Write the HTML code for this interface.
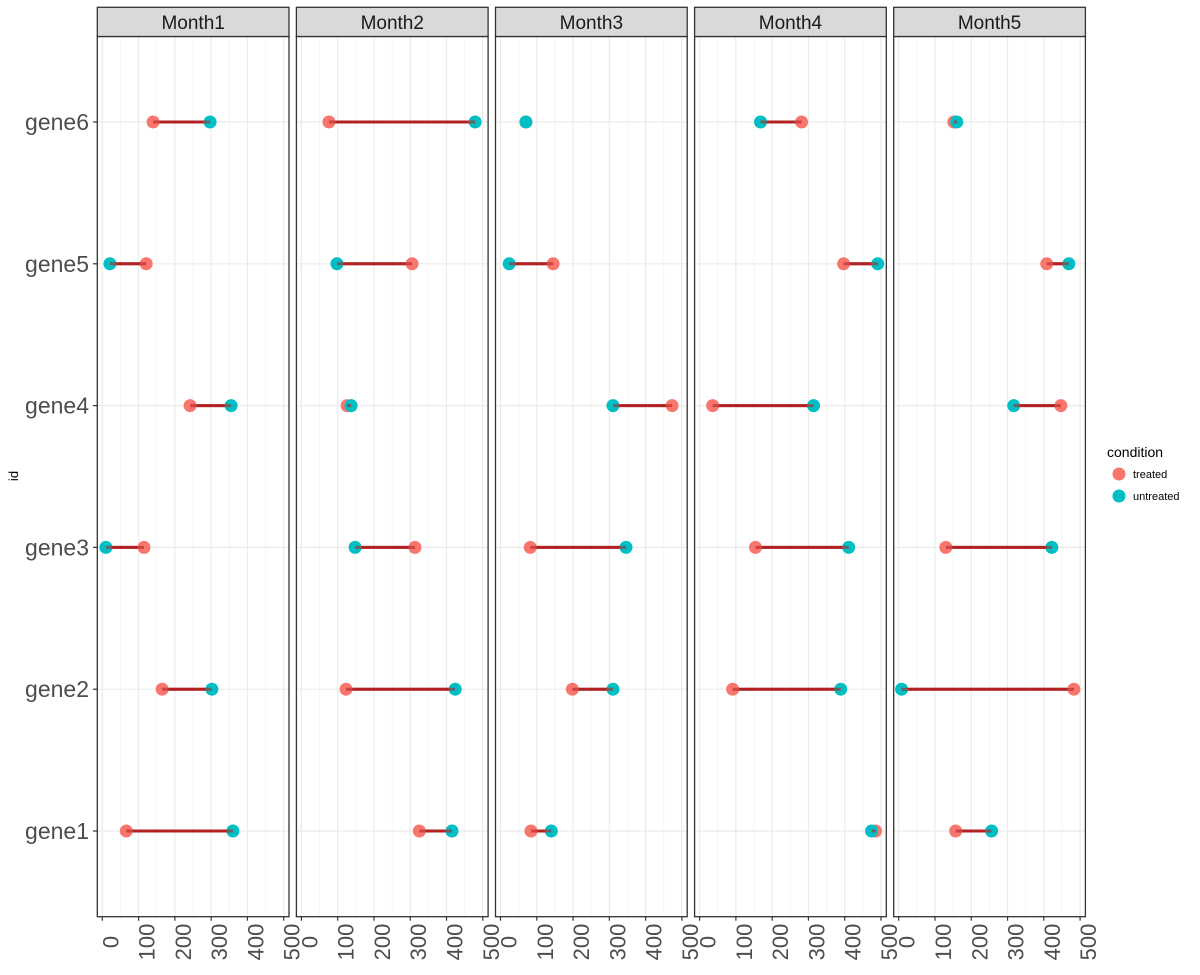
<!DOCTYPE html>
<html><head><meta charset="utf-8"><style>
body{margin:0;background:#fff;font-family:"Liberation Sans",sans-serif}
</style></head><body>
<svg id="chart" width="1200" height="970" xmlns="http://www.w3.org/2000/svg" font-family="Liberation Sans, sans-serif"></svg>
<script>
const months=["Month1","Month2","Month3","Month4","Month5"];
const genes=["gene1","gene2","gene3","gene4","gene5","gene6"];
// treated values per month, ordered gene1..gene6
const treated=[
 [66,165,115,242,121,140],
 [325,123,313,126,305,76],
 [84,198,82,473,145,70],
 [485,91,154,36,397,281],
 [157,483,130,447,408,152]];
const untreated=[
 [360,302,10,355,21,297],
 [415,424,148,137,98,479],
 [140,310,346,310,24,70],
 [474,389,411,314,491,168],
 [256,8,422,317,469,160]];
const ticks=[0,100,200,300,400,500];
const minorTicks=[50,150,250,350,450];

const svg=document.getElementById('chart');
const NS="http://www.w3.org/2000/svg";
function mk(tag,attrs,parent){const e=document.createElementNS(NS,tag);for(const k in attrs)e.setAttribute(k,attrs[k]);(parent||svg).appendChild(e);return e;}
const panelLeft0=97.3, panelStep=199.1, panelW=191.7, plotTop=36.5, plotBottom=916.7, stripTop=7.3;
const xOff=5, xScale=181.4/500;
function yPos(i){return 831-i*141.8;}
months.forEach((m,p)=>{
 const L=panelLeft0+p*panelStep;
 const x=v=>L+xOff+v*xScale;
 const g=mk('g',{});
 
 
 mk('rect',{x:L,y:plotTop,width:panelW,height:plotBottom-plotTop,fill:'#fff'},g);
 minorTicks.forEach(t=>mk('line',{x1:x(t),x2:x(t),y1:plotTop,y2:plotBottom,stroke:'#f3f3f3','stroke-width':0.8},g));
 ticks.forEach(t=>mk('line',{x1:x(t),x2:x(t),y1:plotTop,y2:plotBottom,stroke:'#ebebeb','stroke-width':1.2},g));
 genes.forEach((gn,i)=>mk('line',{x1:L,x2:L+panelW,y1:yPos(i),y2:yPos(i),stroke:'#ebebeb','stroke-width':1.2},g));
 genes.forEach((gn,i)=>{
  const seg=mk('line',{x1:x(treated[p][i]),x2:x(untreated[p][i]),y1:yPos(i),y2:yPos(i),stroke:'#b22222','stroke-width':3},g);
  
  
  const c1=mk('circle',{cx:x(treated[p][i]),cy:yPos(i),r:6.5,fill:'#F8766D'},g);
  
  
  const c2=mk('circle',{cx:x(untreated[p][i]),cy:yPos(i),r:6.5,fill:'#00BFC4'},g);
  
  
  mk('line',{x1:x(treated[p][i]),x2:x(untreated[p][i]),y1:yPos(i),y2:yPos(i),stroke:'#b22222','stroke-width':3,'stroke-opacity':0.6},g);
 });
 mk('rect',{x:L,y:plotTop,width:panelW,height:plotBottom-plotTop,fill:'none',stroke:'#333','stroke-width':1.3},g);
 const st=mk('rect',{x:L,y:stripTop,width:panelW,height:plotTop-stripTop,fill:'#d9d9d9',stroke:'#333','stroke-width':1.3},g);
 
 
 const tt=mk('text',{x:L+panelW/2,y:29,'text-anchor':'middle','font-size':19,fill:'#1a1a1a'},g);
 tt.textContent=m;
 
 
 ticks.forEach(t=>{
  mk('line',{x1:x(t),x2:x(t),y1:plotBottom,y2:plotBottom+4,stroke:'#333','stroke-width':1.2},g);
  const tl=mk('text',{x:0,y:0,transform:`translate(${x(t)+16},942) rotate(-90)`,'text-anchor':'middle','font-size':22,fill:'#4d4d4d'},g);
  tl.textContent=t;
  
  
 });
});
genes.forEach((gn,i)=>{
 mk('line',{x1:93,x2:97.3,y1:yPos(i),y2:yPos(i),stroke:'#333','stroke-width':1.2});
 const t=mk('text',{x:89,y:yPos(i)+8,'text-anchor':'end','font-size':23,fill:'#4d4d4d'});
 t.textContent=gn;
 
 
});
const yt=mk('text',{x:0,y:0,transform:'translate(18,476) rotate(-90)','text-anchor':'middle','font-size':13,fill:'#000'});
yt.textContent='id';


const lg=mk('g',{});


const lt=mk('text',{x:1107,y:457,'font-size':14,fill:'#000'},lg);lt.textContent='condition';
[['treated','#F8766D',474],['untreated','#00BFC4',496]].forEach(([n,c,y])=>{
 const e=mk('g',{},lg);
 
 
 mk('circle',{cx:1119,cy:y,r:6.5,fill:c},e);
 const t=mk('text',{x:1133,y:y+4,'font-size':11,fill:'#000'},e);t.textContent=n;
});
</script>
</body></html>
